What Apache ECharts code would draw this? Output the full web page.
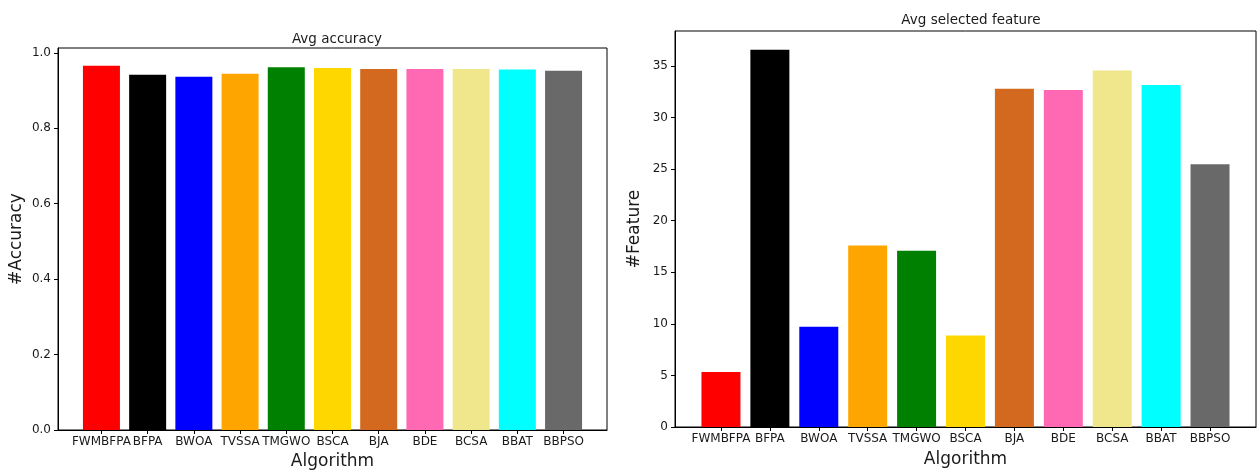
<!DOCTYPE html>
<html><head><meta charset="utf-8">
<script src="https://cdn.jsdelivr.net/npm/echarts@6/dist/echarts.min.js"></script>
<style>html,body{margin:0;padding:0;background:#fff}#c{width:1257px;height:470px}</style>
</head><body><div id="c"></div>
<script>
const categories = ['FWMBFPA','BFPA','BWOA','TVSSA','TMGWO','BSCA','BJA','BDE','BCSA','BBAT','BBPSO'];
const barColors = ['#ff0000','#000000','#0000ff','#ffa500','#008000','#ffd700','#d2691e','#ff69b4','#f0e68c','#00ffff','#696969'];
const accuracy = [0.966,0.942,0.937,0.945,0.962,0.960,0.957,0.957,0.957,0.956,0.953];
const features = [5.34,36.58,9.71,17.6,17.1,8.88,32.81,32.68,34.58,33.16,25.48];
const accTicks = [0,0.2,0.4,0.6,0.8,1.0];
const featTicks = [0,5,10,15,20,25,30,35];

const idx = categories.map((_, i) => i);
const font = 'DejaVu Sans';
const txt = '#1a1a1a';

function xAx(gi){
  return {
    type:'value', gridIndex:gi, min:-0.94, max:10.94,
    name:'Algorithm', nameLocation:'middle', nameGap: gi===0 ? 23 : 24,
    nameTextStyle:{fontFamily:font, fontSize:17, color:txt},
    axisLine:{show:true, onZero:false, lineStyle:{color:'#000', width:1}},
    axisTick:{show:true, inside:false, length:4, lineStyle:{color:'#000'}, customValues: idx},
    axisLabel:{show:true, fontFamily:font, fontSize:12, color:txt, margin:6, customValues: idx,
      formatter: v => categories[Math.round(v)]},
    splitLine:{show:false}
  };
}
function yAx(gi, max, ticks, name, dec){
  return {
    type:'value', gridIndex:gi, min:0, max:max,
    name:name, nameLocation:'middle', nameGap: gi===0 ? 33 : 32,
    nameTextStyle:{fontFamily:font, fontSize:17, color:txt},
    axisLine:{show:true, onZero:false, lineStyle:{color:'#000', width:1}},
    axisTick:{show:true, inside:false, length:4, lineStyle:{color:'#000'}, customValues: ticks},
    axisLabel:{show:true, fontFamily:font, fontSize:12, color:txt, margin:7, customValues: ticks,
      formatter: v => v.toFixed(dec)},
    splitLine:{show:false}
  };
}

const chart = echarts.init(document.getElementById('c'), null, {renderer:'canvas'});
chart.setOption({
  animation:false,
  backgroundColor:'#fff',
  title:[
    {text:'Avg accuracy', left:332, top:27, textAlign:'center', textStyle:{fontFamily:font, fontSize:13.5, fontWeight:'normal', color:txt}},
    {text:'Avg selected feature', left:966, top:8, textAlign:'center', textStyle:{fontFamily:font, fontSize:13.5, fontWeight:'normal', color:txt}}
  ],
  grid:[
    {left:58, top:48, width:549, height:382, show:true, borderColor:'#000', borderWidth:1, outerBoundsMode:'none', containLabel:false},
    {left:675, top:31, width:581, height:396, show:true, borderColor:'#000', borderWidth:1, outerBoundsMode:'none', containLabel:false}
  ],
  xAxis:[xAx(0), xAx(1)],
  yAxis:[yAx(0, 1.013, accTicks, '#Accuracy', 1), yAx(1, 38.4, featTicks, '#Feature', 0)],
  series:[
    {type:'bar', xAxisIndex:0, yAxisIndex:0, barWidth:37,
      data: accuracy.map((v,i)=>({value:[i,v], itemStyle:{color:barColors[i]}}))},
    {type:'bar', xAxisIndex:1, yAxisIndex:1, barWidth:39,
      data: features.map((v,i)=>({value:[i,v], itemStyle:{color:barColors[i]}}))}
  ]
});
</script></body></html>
